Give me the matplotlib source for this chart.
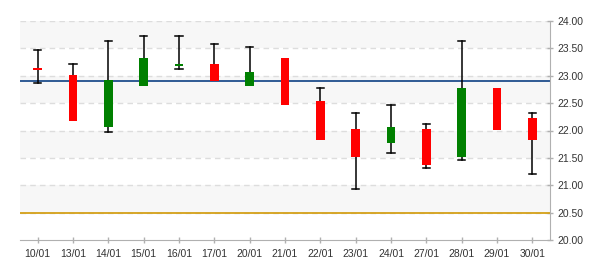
import matplotlib
matplotlib.use("Agg")
import matplotlib.pyplot as plt

dates = ["10/01", "13/01", "14/01", "15/01", "16/01", "17/01", "20/01", "21/01",
         "22/01", "23/01", "24/01", "27/01", "28/01", "29/01", "30/01"]
opens = [23.14, 23.02, 22.06, 22.82, 23.17, 23.22, 22.82, 23.33,
         22.53, 22.02, 21.77, 22.02, 21.51, 22.78, 22.22]
closes = [23.10, 22.17, 22.93, 23.33, 23.22, 22.91, 23.07, 22.46,
          21.82, 21.51, 22.07, 21.37, 22.78, 22.01, 21.82]
highs = [23.47, 23.21, 23.63, 23.73, 23.73, 23.58, 23.52, 23.33,
         22.78, 22.32, 22.47, 22.12, 23.63, 22.78, 22.32]
lows = [22.87, 22.17, 21.98, 22.82, 23.13, 22.91, 22.82, 22.46,
        21.82, 20.93, 21.58, 21.32, 21.47, 22.01, 21.21]
ref_upper = 22.90
ref_lower = 20.50
y_ticks = [20.0, 20.5, 21.0, 21.5, 22.0, 22.5, 23.0, 23.5, 24.0]

plt.rcParams['font.family'] = ['Liberation Sans', 'DejaVu Sans']
fig = plt.figure(figsize=(6, 2.7), dpi=100)
ax = fig.add_axes([20/600, 30/270, 530/600, 219/270])

# background bands
for lo, hi in zip(y_ticks[:-1], y_ticks[1:]):
    idx = y_ticks.index(lo)
    if idx % 2 == 1:
        ax.axhspan(lo, hi, color="#f7f7f7", zorder=0, lw=0)
for t in y_ticks[1:]:
    ax.axhline(t, color="#dddddd", lw=1.0, ls=(0, (4, 3)), zorder=1)

ax.axhline(ref_upper, color="#1f4e8c", lw=1.3, zorder=2)
ax.axhline(ref_lower, color="#d4a017", lw=1.3, zorder=2)

bw = 0.25
cw = 0.2
for i, (o, c, h, l) in enumerate(zip(opens, closes, highs, lows)):
    col = "#ff0000" if c < o else "#008000"
    top = max(o, c)
    bot = min(o, c)
    if h > top + 0.005:
        ax.plot([i, i], [top, h], color="black", lw=1.1, zorder=3)
        ax.plot([i - cw/2, i + cw/2], [h, h], color="black", lw=1.1, zorder=3)
    if l < bot - 0.005:
        ax.plot([i, i], [l, bot], color="black", lw=1.1, zorder=3)
        ax.plot([i - cw/2, i + cw/2], [l, l], color="black", lw=1.1, zorder=3)
    ax.bar(i, top - bot, bottom=bot, width=bw, color=col, zorder=4, lw=0)

ax.set_xlim(-0.5, 14.5)
ax.set_ylim(20.0, 24.0)
ax.set_xticks(range(len(dates)))
ax.set_xticklabels(dates)
ax.set_yticks(y_ticks)
ax.set_yticklabels([f"{t:.2f}" for t in y_ticks])
ax.yaxis.tick_right()
for s in ["top", "left"]:
    ax.spines[s].set_visible(False)
ax.spines["right"].set_color("#b0b0b0")
ax.spines["bottom"].set_color("#b0b0b0")
ax.tick_params(axis="both", colors="#b0b0b0", labelcolor="#333333", labelsize=7.5,
               direction="inout", length=5, width=1)
ax.tick_params(axis="x", pad=4)
ax.tick_params(axis="y", pad=3)

fig.savefig("out.png", dpi=100)
